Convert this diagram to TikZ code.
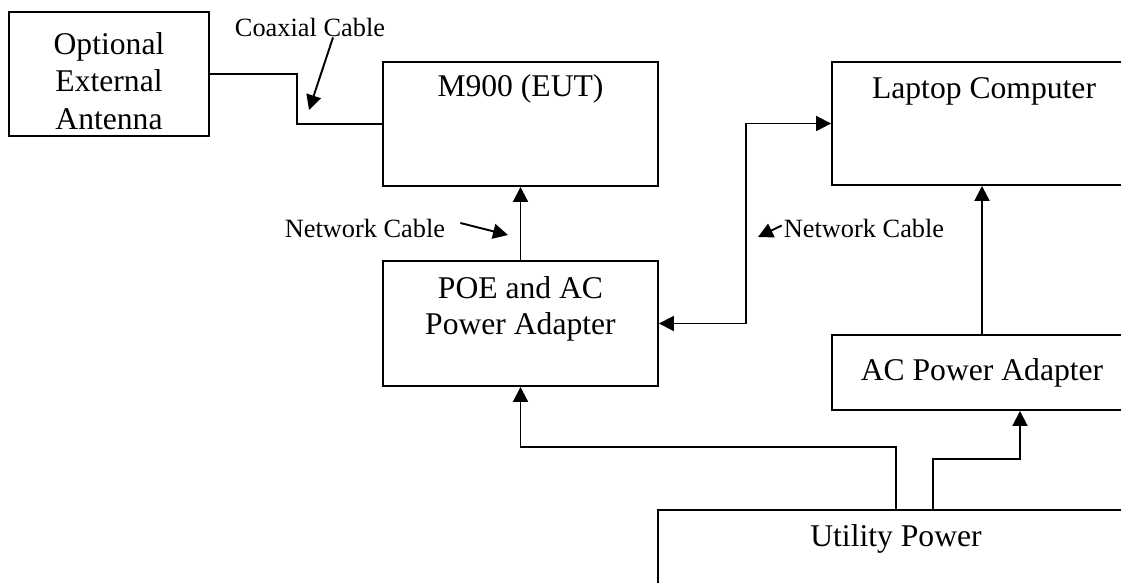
\documentclass[tikz,border=0pt]{standalone}
\usepackage{fontspec}
\setmainfont{Liberation Serif}
\usetikzlibrary{arrows.meta, calc}
\tikzset{
  box/.style      = {rectangle, draw, line width=1.1pt, inner sep=0pt},
  boxtext/.style  = {font=\fontsize{18}{20.5}\selectfont, align=center},
  cabletext/.style = {font=\fontsize{15}{17}\selectfont},
  wire/.style     = {line width=1.1pt},
  arrow/.style    = {line width=1.1pt, -{Triangle[length=8.5pt, width=8.5pt]}},
  darrow/.style   = {line width=1.1pt, {Triangle[length=8.5pt, width=8.5pt]}-{Triangle[length=8.5pt, width=8.5pt]}},
}
\begin{document}
\begin{tikzpicture}[x=0.02cm, y=-0.02cm]
    \useasboundingbox (0,0) rectangle (1121,582);
    \clip (0,0) rectangle (1121,582);

    %% ===================== BOXES =====================
    \node[box,          minimum width=4cm,    minimum height=2.48cm] (antenna) at (109, 74)   {};
    \node[box,          minimum width=5.5cm,  minimum height=2.48cm] (m900)    at (520.5, 124) {};
    \node[box,          minimum width=6.08cm, minimum height=2.46cm] (laptop)  at (984, 123.5) {};
    \node[box,          minimum width=5.5cm,  minimum height=2.5cm]  (poe)     at (520.5, 323.5) {};
    \node[box, boxtext, minimum width=6cm,    minimum height=1.5cm]  (acad)    at (982, 372.5) {AC Power Adapter};
    \node[box,          minimum width=9.52cm, minimum height=2.6cm]  (utility) at (896, 575) {};

    \node[boxtext, font=\fontsize{18}{21.3}\selectfont] (antennatxt) at ([yshift=-0.14cm]antenna.center) {Optional\\External\\Antenna};
    \node[boxtext] (m900txt)    at ([yshift=-0.56cm]m900.north)    {M900 (EUT)};
    \node[boxtext] (laptoptxt)  at ([yshift=-0.6cm]laptop.north)   {Laptop Computer};
    \node[boxtext] (poetxt)     at ([yshift=-0.98cm]poe.north)     {POE and AC\\Power Adapter};
    \node[boxtext] (utilitytxt) at ([yshift=-0.6cm]utility.north)  {Utility Power};

    %% ===================== CABLES =====================
    \draw[wire]   (antenna.east) -- ++(87,0) |- (m900.west);
    \draw[arrow]  (poe.north) -- (m900.south);
    \draw[darrow] (poe.east) -- ++(87,0) |- (laptop.west);
    \draw[arrow]  (acad.north) -- (acad.north |- laptop.south);

    %% Utility power feeds
    \draw[arrow] (utility.north) -- ++(0,-62) -| (poe.south);
    \draw[arrow] ([xshift=0.74cm]utility.north) -- ++(0,-50) -| ([xshift=0.76cm]acad.south);

    %% ===================== LABELS =====================
    \node[cabletext] (coaxlbl) at (310, 27)  {Coaxial Cable};
    \node[cabletext] (netlblL) at (365, 228) {Network Cable};
    \node[cabletext] (netlblR) at (864, 228) {Network Cable};

    \coordinate (coaxtip) at (309, 110);
    \coordinate (nettipL) at (508, 235);
    \coordinate (nettipR) at (758, 237);

    \draw[arrow] ([xshift=0.46cm, yshift=0.1cm]coaxlbl.south) -- (coaxtip);
    \draw[arrow] ([xshift=0.18cm, yshift=0.1cm]netlblL.east) -- (nettipL);
    \draw[arrow] ([xshift=0.08cm, yshift=0.05cm]netlblR.west) -- (nettipR);

\end{tikzpicture}
\end{document}
